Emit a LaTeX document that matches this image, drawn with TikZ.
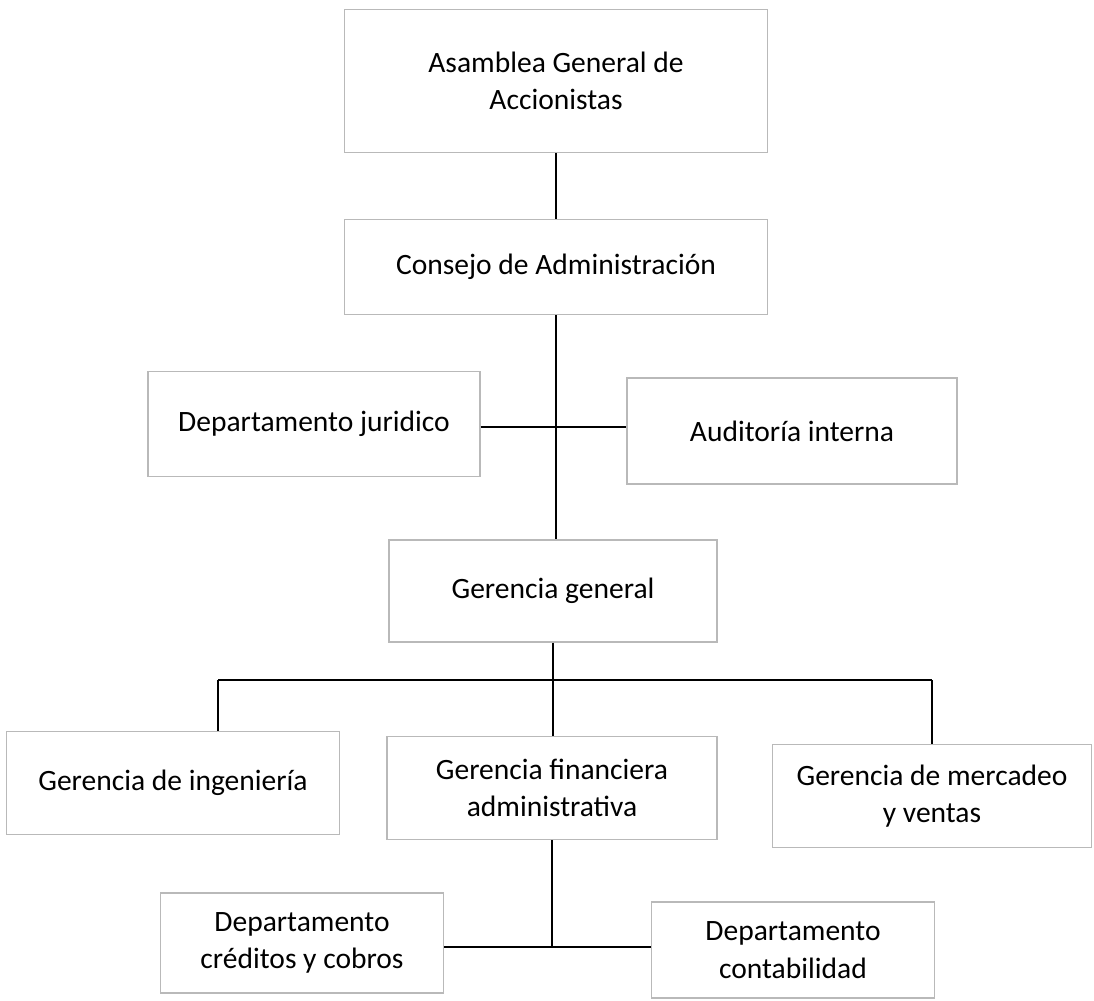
\documentclass[tikz,border=0pt]{standalone}
\usepackage{fontspec}
\setmainfont{Carlito}
\usepackage{tikz}
\usepackage{xcolor}

\begin{document}
\begin{tikzpicture}[x=0.025cm, y=-0.025cm,
        caja/.style={draw=gray!55, line width=1pt, align=center, inner sep=0pt,
            font=\fontsize{21}{26.5}\selectfont},
        linea/.style={line width=0.9pt}]
        \useasboundingbox (0, 0) rectangle (1094, 1001);

        \node[caja, minimum width=10.575cm, minimum height=3.575cm] (asamblea) at (556, 81) {Asamblea General de\\Accionistas};
        \node[caja, minimum width=10.575cm, minimum height=2.375cm] (consejo) at (556, 267) {Consejo de Administración};
        \node[caja, minimum width=8.3cm, minimum height=2.625cm] (juridico) at (314, 424) {Departamento juridico};
        \node[caja, minimum width=8.25cm, minimum height=2.65cm] (auditoria) at (792, 431) {Auditoría interna};
        \node[caja, minimum width=8.2cm, minimum height=2.55cm] (gerencia) at (553, 591) {Gerencia general};
        \node[caja, minimum width=8.325cm, minimum height=2.575cm] (ingenieria) at (173, 783) {Gerencia de ingeniería};
        \node[caja, minimum width=8.25cm, minimum height=2.575cm] (financiera) at (552, 788) {Gerencia financiera\\administrativa};
        \node[caja, minimum width=7.975cm, minimum height=2.575cm] (mercadeo) at (932, 796) {Gerencia de mercadeo\\y ventas};
        \node[caja, minimum width=7.075cm, minimum height=2.5cm] (creditos) at (302, 943) {Departamento\\créditos y cobros};
        \node[caja, minimum width=7.075cm, minimum height=2.4cm] (contabilidad) at (793, 950) {Departamento\\contabilidad};

        % puntos de las ramas
        \coordinate (cruce) at (555, 427);
        \coordinate (ramaI) at (218, 680);
        \coordinate (ramaM) at (932, 680);
        \coordinate (ramaF) at (552, 947);

        \draw[linea] (asamblea) -- (consejo);
        \draw[linea] (consejo.south) -- (consejo.south |- gerencia.north);
        \draw[linea] (juridico.east |- cruce) -- (auditoria.west |- cruce);

        \draw[linea] (gerencia.south) -- (gerencia.south |- financiera.north);
        \draw[linea] (ramaI) -- (ramaM);
        \draw[linea] (ramaI) -- (ramaI |- ingenieria.north);
        \draw[linea] (ramaM) -- (mercadeo.north);

        \draw[linea] (financiera.south) -- (financiera.south |- ramaF);
        \draw[linea] (creditos.east |- ramaF) -- (contabilidad.west |- ramaF);
    \end{tikzpicture}
\end{document}
